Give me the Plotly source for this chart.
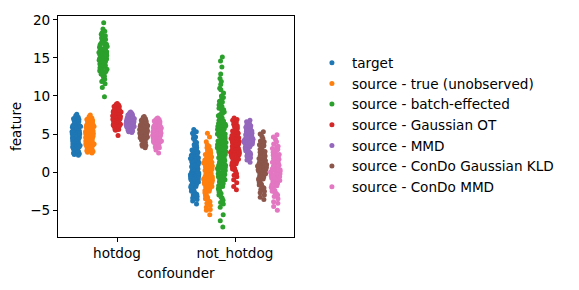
import plotly.graph_objects as go

categories = ["hotdog", "not_hotdog"]
hues = ["target", "source - true (unobserved)", "source - batch-effected",
        "source - Gaussian OT", "source - MMD", "source - ConDo Gaussian KLD",
        "source - ConDo MMD"]
colors = ["#1f77b4", "#ff7f0e", "#2ca02c", "#d62728", "#9467bd", "#8c564b", "#e377c2"]

hd_target = [4.9, 5.3, 3.8, 6.1, 4.4, 2.7, 5.8, 4.1, 6.9, 3.3, 5.0, 4.6, 7.6, 2.4, 5.5, 3.9, 6.4, 4.8, 3.1, 5.2, 6.7, 4.3, 2.9, 5.9, 4.0, 7.2, 3.6, 5.6, 4.7, 2.2, 6.2, 3.4, 5.1, 4.5, 6.0, 3.0, 7.0, 4.2, 5.4, 3.7, 6.5, 2.6, 4.9, 5.7, 3.5, 6.3, 4.6, 2.8, 5.3, 7.4, 3.2, 4.4, 6.8, 5.0, 3.9, 2.5, 6.1, 4.1, 5.8, 3.3, 7.1, 4.8, 2.3, 5.5, 6.6, 3.8, 4.3, 5.2, 3.0, 6.0]
hd_true = [5.0, 4.2, 6.3, 3.6, 5.7, 4.8, 2.9, 6.8, 4.0, 5.3, 3.2, 6.0, 4.6, 7.3, 3.8, 5.5, 4.4, 2.7, 6.5, 5.1, 3.5, 4.9, 6.2, 3.0, 5.8, 4.1, 7.0, 3.7, 5.4, 4.7, 2.5, 6.6, 4.3, 5.2, 3.4, 6.1, 4.5, 7.5, 3.9, 5.6, 3.1, 4.8, 6.4, 2.8, 5.0, 4.2, 6.9, 3.6, 5.9, 4.6, 3.3, 5.3, 6.7, 4.0, 3.8, 7.1, 4.9, 5.5, 2.6, 6.3, 4.4, 5.7, 3.5, 6.0, 4.7, 3.0, 5.2, 4.1, 6.8, 3.9]
hd_batch = [15.1, 14.2, 16.5, 13.4, 15.8, 12.6, 17.2, 14.7, 16.0, 13.0, 15.4, 18.1, 14.0, 16.8, 12.2, 15.6, 14.5, 17.6, 13.7, 15.0, 16.3, 11.6, 14.9, 17.9, 13.2, 15.9, 14.3, 16.6, 12.9, 15.2, 18.5, 14.6, 13.6, 16.1, 15.5, 12.0, 17.0, 14.1, 15.7, 13.9, 16.9, 19.6, 14.8, 11.1, 15.3, 16.4, 13.3, 17.4, 14.4, 15.0, 12.5, 16.2, 18.8, 13.8, 15.8, 14.0, 17.1, 12.8, 15.5, 16.7, 9.9, 14.6, 13.1, 18.3, 15.2, 16.0, 11.9, 14.9, 17.7, 13.5]
hd_gauss_ot = [7.1, 6.6, 7.8, 6.2, 7.4, 8.3, 5.9, 7.0, 8.7, 6.4, 7.6, 5.6, 7.2, 8.0, 6.8, 6.0, 7.9, 6.5, 8.5, 7.3, 5.8, 6.9, 7.7, 6.3, 8.2, 7.0, 9.0, 6.7, 7.5, 5.5, 8.1, 6.1, 7.3, 6.9, 8.6, 5.7, 7.4, 6.4, 7.9, 4.8, 7.1, 8.4, 6.6, 7.6, 6.0, 8.8, 7.2, 6.3, 7.8, 5.9, 8.0, 6.8, 7.5, 6.2, 8.3, 7.0, 5.6, 7.7, 6.5, 8.9, 7.3, 6.7, 8.1, 6.1, 7.4, 5.8, 7.9, 6.9, 8.6, 7.1]
hd_mmd = [6.5, 6.2, 6.9, 5.9, 7.2, 6.4, 6.7, 5.6, 7.5, 6.1, 6.8, 6.3, 7.0, 5.8, 6.6, 7.8, 6.0, 6.9, 5.4, 7.3, 6.5, 6.2, 7.1, 5.7, 6.8, 6.4, 7.6, 6.0, 6.6, 5.2, 7.0, 6.3, 7.4, 5.9, 6.7, 6.1, 7.2, 5.5, 6.9, 6.4, 7.7, 6.2, 6.5, 5.8, 7.1, 6.0, 6.8, 5.6, 7.3, 6.3, 6.6, 7.9, 6.1, 6.9, 5.3, 7.0, 6.4, 6.7, 5.9, 7.5, 6.2, 6.5, 5.7, 7.2, 6.8, 6.0, 7.4, 6.3, 5.5, 6.6]
hd_condo_kld = [5.4, 4.9, 6.1, 4.5, 5.8, 5.1, 6.6, 4.2, 5.6, 6.9, 4.7, 5.3, 6.3, 3.9, 5.0, 5.9, 4.4, 7.2, 5.5, 4.8, 6.0, 3.6, 5.2, 6.4, 4.6, 5.7, 4.1, 6.8, 5.0, 5.4, 3.2, 6.2, 4.9, 5.8, 4.3, 6.5, 5.1, 7.0, 4.6, 5.6, 3.8, 6.1, 5.3, 4.7, 6.7, 5.5, 4.0, 5.9, 4.4, 6.3, 5.2, 3.5, 5.7, 4.8, 6.0, 5.0, 7.3, 4.5, 5.4, 6.6, 4.2, 5.8, 4.9, 6.2, 3.4, 5.3, 4.7, 6.4, 5.1, 5.6]
hd_condo_mmd = [5.0, 4.5, 5.7, 4.1, 5.3, 6.2, 3.7, 4.8, 6.6, 4.3, 5.5, 3.4, 5.1, 6.0, 4.6, 3.9, 5.8, 4.4, 6.9, 5.2, 3.6, 4.9, 6.4, 4.0, 5.6, 4.7, 7.0, 3.3, 5.4, 4.2, 6.1, 4.8, 5.9, 3.8, 5.0, 6.5, 4.4, 5.3, 2.9, 5.7, 4.6, 6.3, 4.1, 5.2, 3.5, 6.8, 4.9, 5.5, 4.3, 6.0, 2.5, 4.7, 5.8, 4.0, 6.7, 5.1, 3.7, 5.4, 4.5, 6.2, 3.2, 5.0, 4.8, 5.6, 4.2, 6.4, 3.9, 5.3, 4.6, 7.1]

nh_target = [0.3, -1.2, 1.8, -0.5, 2.6, -2.1, 0.9, 3.3, -1.7, 0.1, 1.4, -2.8, 2.2, -0.9, 4.1, 0.6, -3.4, 1.1, -0.2, 2.9, -1.5, 0.4, 5.6, -2.4, 1.7, -0.7, 3.0, -1.0, 0.8, -3.0, 2.0, -0.3, 1.3, 4.6, -2.0, 0.0, 2.5, -1.3, 0.7, -4.2, 1.9, -0.6, 3.6, -1.9, 0.2, 1.5, -2.6, 2.8, -0.1, 1.0, 5.1, -1.4, 0.5, -3.2, 2.3, -0.8, 1.6, -2.2, 3.9, 0.3, -1.1, 2.1, -0.4, 1.2, -2.9, 0.9, 4.4, -1.6, 0.6, -0.2, 2.7, -2.5, 1.4, -0.9, 3.2, -1.8, 0.1, 2.4, -3.6, 1.1, -0.5, 1.8, -1.2, 3.5, 0.4, -2.3, 2.0, -0.7, 5.3, 0.8, -1.5, 1.6, -3.8, 2.6, -0.3, 1.0, -2.0, 4.8, 0.0, 1.3]
nh_true = [-0.2, 1.1, -1.6, 2.4, -0.8, 0.5, -2.7, 1.8, -1.1, 3.2, -3.5, 0.2, 1.5, -0.5, -2.0, 2.9, -1.4, 0.8, -4.1, 1.2, -0.3, 2.1, -2.4, 0.0, 4.6, -1.8, 0.6, -3.0, 1.7, -0.9, 2.6, -1.2, 0.3, -3.8, 1.0, -0.6, 3.6, -2.2, 0.9, -1.5, 2.0, -4.6, 0.4, -0.1, 1.4, -2.9, 2.7, -1.0, 0.7, -3.3, 5.1, -0.4, 1.3, -2.1, 0.1, -5.6, 1.9, -1.3, 2.3, -0.7, -2.6, 0.5, 3.0, -1.7, 1.1, -3.9, 0.2, -0.8, 1.6, -2.3, 4.0, -0.2, -5.0, 0.8, -1.9, 2.5, -1.1, 0.0, -3.1, 1.5, -0.5, 2.2, -4.4, 0.6, -1.4, 3.4, -2.5, 0.3, -0.9, 1.8, -3.6, 1.0, -0.3, 2.8, -1.6, -4.9, 0.4, -2.0, 1.2, -0.6]
nh_batch = [3.5, 1.2, 6.0, -0.8, 4.7, 2.3, 8.1, -2.5, 5.4, 0.6, 3.0, 7.2, -1.4, 4.1, 9.6, 1.8, -3.3, 5.9, 2.7, 0.1, 6.8, 3.8, -0.3, 10.4, 4.4, 1.5, -1.9, 7.7, 2.0, 5.1, -4.2, 3.3, 8.8, 0.9, 6.3, -0.6, 4.0, 11.5, 2.6, -2.8, 5.6, 1.1, 7.0, 3.6, -1.0, 9.0, 4.9, 0.3, 2.1, 6.5, -3.7, 3.9, 12.3, 1.6, 5.2, -0.1, 8.4, 2.9, -2.2, 4.5, 0.7, 7.4, 3.2, 10.0, -1.6, 5.8, 1.9, -5.6, 6.1, 2.4, 4.3, 13.8, 0.0, 3.7, 8.6, -0.9, 5.0, 2.2, -3.0, 6.7, 1.3, 4.8, 9.3, -1.3, 3.4, 0.5, 7.9, 2.8, -4.6, 5.5, 1.0, 11.0, 3.1, -0.4, 6.4, 4.2, -2.0, 8.2, 1.7, 5.3, 0.2, 14.6, 2.5, -1.1, 7.1, 3.6, 9.8, -6.4, 4.6, 1.4, 6.2, -0.7, 2.8, 10.8, 5.7, 0.8, -2.6, 3.9, 7.5, 1.2, 4.4, -3.4, 8.9, 2.0, 5.0, 12.9, -1.8, 3.3, 6.6, 0.4, 4.1, -0.2, 9.2, 2.6, -4.0, 5.8, 1.5, 7.6, 3.0, 15.1, -1.5, 4.7, 0.9, -7.2, 6.0, 2.3, 11.9, 3.7, -2.4, 5.2]
nh_gauss_ot = [3.1, 2.4, 4.2, 1.6, 3.7, 5.0, 0.9, 2.8, 4.6, 3.3, 6.1, 1.9, 3.0, 5.4, 2.2, 0.4, 4.0, 3.5, 6.6, 1.3, 2.6, 4.8, 3.8, -0.6, 2.0, 5.7, 3.2, 1.1, 4.4, 2.9, 7.1, 0.7, 3.6, 5.2, 2.3, -1.4, 4.1, 3.0, 1.5, 6.3, 2.7, 4.7, 0.1, 3.4, 5.9, 2.1, 3.9, 1.8, 4.5, -2.3, 2.5, 6.8, 3.2, 0.5, 4.3, 1.0, 5.5, 2.9, 3.7, -0.2, 4.9, 2.2, 6.0, 1.4, 3.5, 0.8, 4.2, 2.6, 5.1, 3.1, -1.0, 4.6, 1.7, 6.5, 2.4, 3.8, 0.3, 5.3, 2.8, 4.0, 1.2, 6.9, 3.3, -1.9, 2.0, 4.8, 3.6, 0.6, 5.8, 2.5, 3.0, 4.4, 1.6, 6.2, 2.3, 3.9, -0.4, 5.0, 2.7, 4.1]
nh_mmd = [4.3, 3.8, 5.0, 3.2, 4.7, 5.6, 2.6, 4.1, 5.3, 3.5, 4.5, 6.2, 2.9, 4.0, 5.1, 3.7, 4.8, 1.9, 4.4, 5.8, 3.3, 4.6, 6.6, 3.0, 4.2, 5.4, 2.3, 3.9, 4.9, 3.6, 5.2, 4.3, 1.3, 4.7, 6.0, 3.4, 4.1, 5.5, 2.8, 4.5, 3.8, 5.0, 6.4, 3.1, 4.0, 5.7, 2.5, 4.6, 3.5, 5.3, 4.2, 1.6, 4.8, 6.8, 3.7, 4.4, 5.1, 2.7, 3.9, 5.9, 4.3, 3.3, 4.9, 2.1, 5.4, 4.0, 6.1, 3.6, 4.6, 5.2, 3.0, 4.1, 5.6, 2.4, 4.7, 3.8, 6.5, 4.4, 3.2, 5.0]
nh_condo_kld = [1.0, 0.3, 2.1, -0.6, 1.6, 3.0, -1.3, 0.8, 2.6, -0.2, 1.3, 4.1, -2.0, 0.5, 1.9, -0.9, 3.5, 1.1, -2.7, 0.0, 2.3, 1.5, -1.6, 4.7, 0.7, -0.4, 2.8, 1.2, -3.3, 0.2, 1.8, 3.2, -1.0, 0.9, 5.3, -0.1, 2.0, -2.3, 1.4, 0.4, 3.8, -0.8, 1.7, -1.9, 2.5, 0.6, -3.6, 1.0, 3.4, -0.3, 2.2, 0.1, -1.4, 4.4, 1.5, -0.7, 2.9, 0.8, -2.5, 1.3, 0.3, 3.6, -1.1, 2.4, -0.5, 1.9, 5.0, -2.1, 0.6, 1.2, -3.0, 2.7, 0.0, 1.6, -1.7, 4.0, 0.9, -0.9, 2.1, 1.4]
nh_condo_mmd = [0.2, -0.7, 1.3, -1.5, 2.2, 0.6, -2.4, 1.8, -0.2, 3.1, -1.1, 0.9, -3.2, 2.6, 0.0, -0.9, 1.5, -2.0, 3.7, 0.4, -1.7, 2.0, -0.4, 4.3, -2.8, 1.1, -0.1, -3.9, 2.4, 0.7, -1.3, 1.6, -2.5, 3.4, 0.2, -0.6, 4.9, -1.9, 1.0, -4.5, 2.8, -0.3, 0.5, -2.2, 1.9, -1.0, 3.0, -3.5, 0.8, -0.5, 2.3, -1.6, 4.0, 0.3, -2.7, 1.4, -0.8, -5.0, 2.1, 0.1, -1.2, 3.3, -2.1, 0.9, -0.3, 1.7, -3.0, 2.5, -1.4, 0.4, 4.6, -0.9, 1.2, -2.3, 0.6, -4.1, 2.9, -0.1, 1.5, -1.8]

hotdog_series = [hd_target, hd_true, hd_batch, hd_gauss_ot, hd_mmd, hd_condo_kld, hd_condo_mmd]
not_hotdog_series = [nh_target, nh_true, nh_batch, nh_gauss_ot, nh_mmd, nh_condo_kld, nh_condo_mmd]

FONT = "DejaVu Sans"
FS = 13.6
fig = go.Figure()
for i, (name, col) in enumerate(zip(hues, colors)):
    ys = hotdog_series[i] + not_hotdog_series[i]
    xs = [categories[0]] * len(hotdog_series[i]) + [categories[1]] * len(not_hotdog_series[i])
    fig.add_trace(go.Box(
        x=xs, y=ys, name=name, offsetgroup=str(i), showlegend=False,
        boxpoints="all", jitter=0.75, pointpos=0,
        marker=dict(color=col, size=5, opacity=1, line=dict(width=0)),
        line=dict(width=0, color="rgba(0,0,0,0)"), fillcolor="rgba(0,0,0,0)",
        hoveron="points",
    ))
for name, col in zip(hues, colors):
    fig.add_trace(go.Scatter(x=[None], y=[None], mode="markers", name=name,
                             marker=dict(color=col, size=5)))

fig.update_layout(
    width=571, height=282,
    margin=dict(l=50, r=285, t=4, b=53),
    paper_bgcolor="white", plot_bgcolor="white",
    font=dict(family=FONT, size=FS, color="black"),
    boxmode="group", boxgap=0.2, boxgroupgap=0,
    showlegend=True,
    legend=dict(x=1.076, y=0.858, xanchor="left", yanchor="top",
                font=dict(family=FONT, size=FS), tracegroupgap=0,
                itemwidth=30, bgcolor="rgba(0,0,0,0)"),
)
fig.update_xaxes(type="category", categoryorder="array", categoryarray=categories,
                 range=[-0.5, 1.5], showline=True, linecolor="black", linewidth=1,
                 mirror=True, ticks="outside", ticklen=4, tickcolor="black",
                 showgrid=False, zeroline=False,
                 title=dict(text="confounder", standoff=8,
                            font=dict(family=FONT, size=FS)))
fig.update_yaxes(range=[-8.52, 20.5], tickvals=[-5, 0, 5, 10, 15, 20],
                 ticktext=["\u22125", "0", "5", "10", "15", "20"],
                 ticklabeloverflow="allow",
                 showline=True, linecolor="black", linewidth=1, mirror=True,
                 ticks="outside", ticklen=4, tickcolor="black",
                 showgrid=False, zeroline=False,
                 title=dict(text="feature", standoff=8,
                            font=dict(family=FONT, size=FS)))

fig.write_html("out.html")
